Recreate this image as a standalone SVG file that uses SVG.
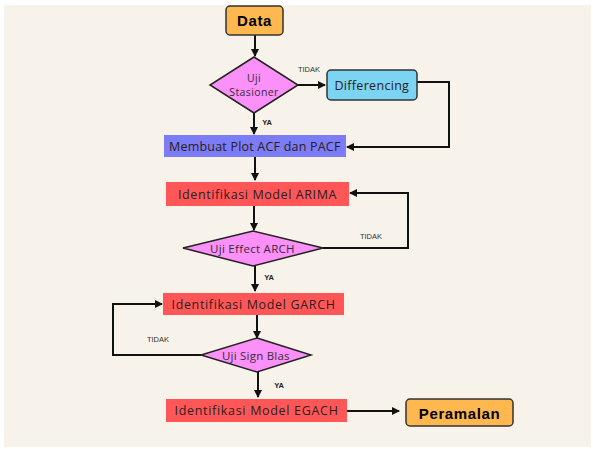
<svg xmlns="http://www.w3.org/2000/svg" width="593" height="449" viewBox="0 0 593 449">
<defs>
<marker id="ah" markerWidth="8" markerHeight="8" refX="7" refY="4" orient="auto" markerUnits="userSpaceOnUse">
<path d="M0,0 L8,4 L0,8 Z" fill="#111"/>
</marker>
<style>
.ln{fill:none;stroke:#111;stroke-width:2;}
.term{fill:#ffb74f;stroke:#333;stroke-width:1.5;}
.dia{fill:#fa90f8;stroke:#222;stroke-width:1.5;}
.red{fill:#ff5757;}
.t{font-family:"Open Sans","Noto Sans",sans-serif;font-size:12.5px;fill:#2a2020;letter-spacing:0.6px;text-anchor:middle;dominant-baseline:central;}
.s{font-size:11.5px;letter-spacing:0.4px;fill:#3a2a3a;}
.ss{font-size:10.5px;}
.b{font-family:"Liberation Sans",Arial,sans-serif;font-weight:bold;font-size:15px;fill:#000;letter-spacing:0.6px;text-anchor:middle;dominant-baseline:central;}
.lab{font-family:"Liberation Sans",Arial,sans-serif;font-size:7.5px;fill:#333;text-anchor:middle;dominant-baseline:central;}
.labb{font-family:"Liberation Sans",Arial,sans-serif;font-weight:bold;font-size:7.5px;fill:#222;text-anchor:middle;dominant-baseline:central;}
</style>
</defs>
<rect x="0" y="0" width="593" height="449" fill="#ffffff"/>
<rect x="4" y="5" width="587" height="442" fill="#f7f2ea"/>

<g id="connectors">
<line class="ln" x1="255" y1="35" x2="255" y2="56" marker-end="url(#ah)"/>
<line class="ln" x1="298" y1="85" x2="325" y2="85" marker-end="url(#ah)"/>
<polyline class="ln" points="417,82 449,82 449,147 347,147" marker-end="url(#ah)"/>
<line class="ln" x1="254" y1="113" x2="254" y2="134" marker-end="url(#ah)"/>
<line class="ln" x1="255" y1="157" x2="255" y2="180" marker-end="url(#ah)"/>
<line class="ln" x1="254" y1="206" x2="254" y2="230" marker-end="url(#ah)"/>
<polyline class="ln" points="323,248 408,248 408,193 350,193" marker-end="url(#ah)"/>
<line class="ln" x1="255" y1="266" x2="255" y2="291" marker-end="url(#ah)"/>
<line class="ln" x1="257" y1="315" x2="257" y2="338" marker-end="url(#ah)"/>
<polyline class="ln" points="201,355 113,355 113,304 162,304" marker-end="url(#ah)"/>
<line class="ln" x1="258" y1="372" x2="258" y2="397" marker-end="url(#ah)"/>
<line class="ln" x1="347" y1="411" x2="399" y2="411" marker-end="url(#ah)"/>
<text class="lab" x="309" y="69">TIDAK</text>
<text class="labb" x="267" y="122">YA</text>
<text class="lab" x="371" y="236">TIDAK</text>
<text class="labb" x="269" y="277">YA</text>
<text class="lab" x="158" y="339">TIDAK</text>
<text class="labb" x="279" y="385">YA</text>
</g>

<g id="data">
<rect class="term" x="226" y="6" width="57" height="29" rx="4"/>
<text class="b" x="254.5" y="20.5">Data</text>
</g>
<g id="uji-stasioner">
<polygon class="dia" points="254,57 298,85 254,113 210,85"/>
<text class="t s ss" x="254" y="77.5">Uji</text>
<text class="t s ss" x="254" y="92">Stasioner</text>
</g>
<g id="differencing">
<rect x="327" y="70" width="90" height="30" rx="4" fill="#7ad4f2" stroke="#333" stroke-width="1.5"/>
<text class="t" x="372" y="85" textLength="75">Differencing</text>
</g>
<g id="plot-acf">
<rect x="164" y="135" width="182" height="22" fill="#7c7cf6"/>
<text class="t" x="255" y="146" textLength="172">Membuat Plot ACF dan PACF</text>
</g>
<g id="arima">
<rect class="red" x="166" y="182" width="183" height="24"/>
<text class="t" x="257.5" y="194" textLength="159">Identifikasi Model ARIMA</text>
</g>
<g id="uji-arch">
<polygon class="dia" points="253,231 323,248 253,266 183,248"/>
<text class="t s" x="252.5" y="248.5" textLength="85">Uji Effect ARCH</text>
</g>
<g id="garch">
<rect class="red" x="163" y="293" width="181" height="22"/>
<text class="t" x="253.5" y="304" textLength="164">Identifikasi Model GARCH</text>
</g>
<g id="uji-sign">
<polygon class="dia" points="257,338 311,355 257,372 201,355"/>
<text class="t s" x="256" y="355" textLength="68">Uji Sign Blas</text>
</g>
<g id="egach">
<rect class="red" x="166" y="399" width="181" height="23"/>
<text class="t" x="256.5" y="410.5" textLength="164">Identifikasi Model EGACH</text>
</g>
<g id="peramalan">
<rect class="term" x="406" y="399" width="107" height="27" rx="4"/>
<text class="b" x="459.5" y="413">Peramalan</text>
</g>
</svg>
